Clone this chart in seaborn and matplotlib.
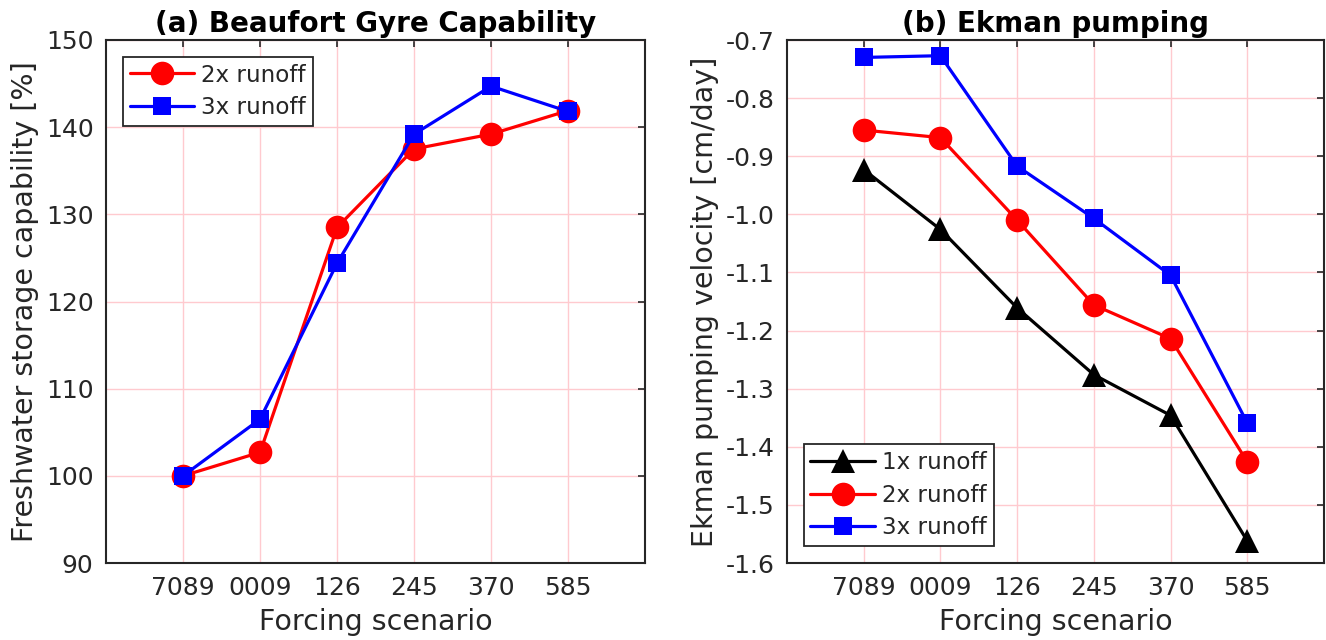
import numpy as np
import pandas as pd
import matplotlib
matplotlib.use("Agg")
import matplotlib.pyplot as plt
import seaborn as sns

# Forcing scenarios on the x axis
scenarios = ["7089", "0009", "126", "245", "370", "585"]

# (a) Beaufort Gyre freshwater storage capability [%]
cap_2x = [100.0, 102.7, 128.5, 137.5, 139.2, 141.9]
cap_3x = [100.0, 106.5, 124.4, 139.2, 144.7, 141.8]

# (b) Ekman pumping velocity [cm/day]
ek_1x = [-0.923, -1.026, -1.161, -1.276, -1.346, -1.562]
ek_2x = [-0.855, -0.868, -1.010, -1.156, -1.214, -1.426]
ek_3x = [-0.730, -0.727, -0.917, -1.007, -1.105, -1.359]

sns.set_style("white")
plt.rcParams["font.family"] = ["DejaVu Sans"]
plt.rcParams["text.color"] = "#262626"
plt.rcParams["axes.labelcolor"] = "#262626"
plt.rcParams["xtick.color"] = "#262626"
plt.rcParams["ytick.color"] = "#262626"

fig = plt.figure(figsize=(13.26, 6.4), dpi=100)
ax1 = fig.add_axes([0.0800, 0.1203, 0.4065, 0.8172])
ax2 = fig.add_axes([0.5935, 0.1203, 0.4050, 0.8172])

styles = {
    "1x": dict(color="black", marker="^", markersize=17),
    "2x": dict(color="red", marker="o", markersize=17),
    "3x": dict(color="blue", marker="s", markersize=13.5),
}


def draw(ax, values, key):
    df = pd.DataFrame({"scenario": scenarios, "value": values})
    sns.lineplot(data=df, x="scenario", y="value", ax=ax, sort=False,
                 linewidth=2.3, markeredgewidth=0, label=key + " runoff",
                 **styles[key])


draw(ax1, cap_2x, "2x")
draw(ax1, cap_3x, "3x")

draw(ax2, ek_1x, "1x")
draw(ax2, ek_2x, "2x")
draw(ax2, ek_3x, "3x")

for ax in (ax1, ax2):
    ax.set_xlim(-1, 6)
    ax.set_xlabel("Forcing scenario", fontsize=20.5, labelpad=6)
    ax.grid(True, color="#ffcacf", linewidth=1.0)
    ax.set_axisbelow(True)
    ax.tick_params(direction="in", length=5, width=1.2, labelsize=18,
                   top=True, right=True, pad=9)
    for s in ax.spines.values():
        s.set_color("#262626")
        s.set_linewidth(1.5)

ax1.set_ylim(90, 150)
ax1.set_yticks(np.arange(90, 151, 10))
ax1.set_ylabel("Freshwater storage capability [%]", fontsize=20.5, labelpad=5)
ax1.set_title("(a) Beaufort Gyre Capability", fontsize=20, fontweight="bold",
              color="black", pad=6)

ax2.set_ylim(-1.6, -0.7)
ax2.set_yticks(np.round(np.arange(-1.6, -0.65, 0.1), 1))
ax2.set_yticklabels([f"{v:.1f}" for v in np.round(np.arange(-1.6, -0.65, 0.1), 1)])
ax2.set_ylabel("Ekman pumping velocity [cm/day]", fontsize=20.5, labelpad=5)
ax2.set_title("(b) Ekman pumping", fontsize=20, fontweight="bold",
              color="black", pad=6)

for ax, loc in ((ax1, "upper left"), (ax2, "lower left")):
    leg = ax.legend(loc=loc, fontsize=16.6, fancybox=False, framealpha=1,
                    edgecolor="#262626", borderaxespad=0.72, handlelength=2.8,
                    borderpad=0.3, labelspacing=0.42, handletextpad=0.3)
    leg.get_frame().set_linewidth(1.3)

fig.savefig("out.png", dpi=100)
